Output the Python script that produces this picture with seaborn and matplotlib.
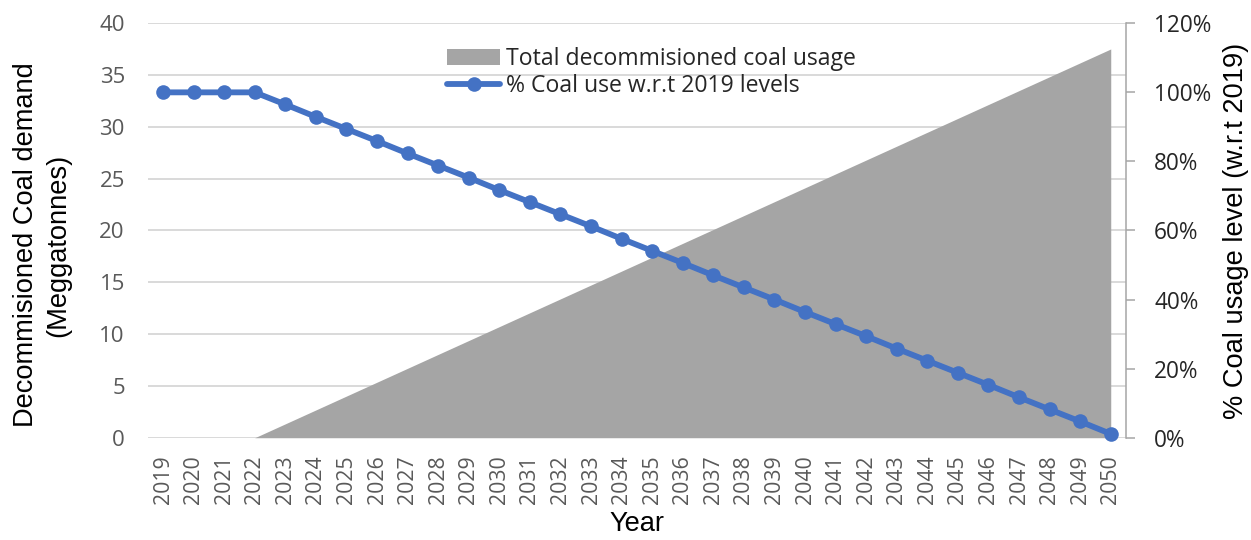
import matplotlib
matplotlib.use("Agg")
import matplotlib.pyplot as plt
from matplotlib.patches import Patch
from matplotlib.lines import Line2D
from matplotlib.ticker import FuncFormatter, MultipleLocator
import pandas as pd
import seaborn as sns

# --- data -------------------------------------------------------------
years = list(range(2019, 2051))
decommissioned_mt = [0, 0, 0, 0, 1.34, 2.68, 4.02, 5.36, 6.70, 8.04, 9.38,
                     10.72, 12.06, 13.40, 14.74, 16.08, 17.42, 18.76, 20.10,
                     21.44, 22.78, 24.12, 25.46, 26.80, 28.14, 29.48, 30.82,
                     32.16, 33.50, 34.84, 36.18, 37.52]
coal_use_pct = [100, 100, 100, 100, 96.5, 92.9, 89.4, 85.9, 82.3, 78.8, 75.3,
                71.7, 68.2, 64.7, 61.2, 57.6, 54.1, 50.6, 47.0, 43.5, 40.0,
                36.4, 32.9, 29.4, 25.8, 22.3, 18.8, 15.3, 11.7, 8.2, 4.7, 1.1]
area_label = "Total decommisioned coal usage"
line_label = "% Coal use w.r.t 2019 levels"

df = pd.DataFrame({"year": years, "decommissioned": decommissioned_mt,
                   "pct": coal_use_pct})

# --- style ------------------------------------------------------------
sns.set_theme(style="white")
plt.rcParams["font.family"] = ["Open Sans", "DejaVu Sans"]

AREA_GREY = "#A5A5A5"
LINE_BLUE = "#4472C4"
GRID = "#D9D9D9"
TICK_GREY = "#595959"
TITLE_FONT = ["Liberation Sans", "DejaVu Sans"]

fig = plt.figure(figsize=(12.51, 5.40), dpi=100)
ax = fig.add_axes([0.1181, 0.1894, 0.7820, 0.7675])
ax2 = ax.twinx()

# area: cumulative decommissioned coal demand (left axis)
ax.fill_between(df["year"], df["decommissioned"], 0, color=AREA_GREY,
                linewidth=0, zorder=2)
ax.set_xlim(2018.5, 2050.5)
ax.set_ylim(0, 40)
ax.yaxis.set_major_locator(MultipleLocator(5))
ax.yaxis.grid(True, color=GRID, linewidth=1.4)
ax.xaxis.grid(False)
ax.set_axisbelow(True)
ax.set_xticks(years)
ax.set_xticklabels([str(y) for y in years], rotation=90)
ax.tick_params(axis="x", length=0, pad=12.5, labelsize=15.3,
               labelcolor=TICK_GREY)
ax.tick_params(axis="y", length=0, pad=16.5, labelsize=16,
               labelcolor=TICK_GREY)
for s in ax.spines.values():
    s.set_visible(False)

# line: coal use relative to 2019 (right axis)
sns.lineplot(data=df, x="year", y="pct", ax=ax2, color=LINE_BLUE,
             linewidth=4.2, marker="o", markersize=10.5,
             markeredgewidth=0, markeredgecolor=LINE_BLUE, clip_on=False,
             zorder=5)
ax2.set_ylim(0, 120)
ax2.yaxis.set_major_locator(MultipleLocator(20))
ax2.yaxis.set_major_formatter(FuncFormatter(lambda v, _: f"{v:.0f}%"))
ax2.tick_params(axis="y", right=True, length=6.5, width=1.1, color="#A6A6A6",
                pad=13.7, labelsize=16.3, labelcolor="#262626")
ax2.set_xlabel("")
ax2.set_ylabel("")
ax2.grid(False)
for name, s in ax2.spines.items():
    s.set_visible(name == "right")
ax2.spines["right"].set_color("#A6A6A6")
ax2.spines["right"].set_linewidth(1.1)

# axis titles
fig.text(42.5 / 1251, 1 - 245 / 540,
         "Decommisioned Coal demand\n(Meggatonnes)", rotation=90,
         ha="center", va="center", fontsize=19.6, family=TITLE_FONT,
         color="black", linespacing=1.3)
fig.text(1236 / 1251, 1 - 230.5 / 540, "% Coal usage level (w.r.t 2019)",
         rotation=90, ha="center", va="center", fontsize=19.6,
         family=TITLE_FONT, color="black")
fig.text(637 / 1251, 1 - 524 / 540, "Year", ha="center", va="center",
         fontsize=19.6, family=TITLE_FONT, color="black")

# legend
handles = [Patch(facecolor=AREA_GREY, edgecolor="none"),
           Line2D([0], [0], color=LINE_BLUE, linewidth=4.2, marker="o",
                  markersize=10.5, markeredgewidth=0)]
fig.legend(handles, [area_label, line_label], loc="upper left",
           bbox_to_anchor=(447 / 1251, 1 - 47 / 540), frameon=False,
           borderpad=0, borderaxespad=0, handlelength=2.3,
           handletextpad=0.28, labelspacing=0.12,
           prop={"family": ["Open Sans", "DejaVu Sans"], "size": 16.6})

fig.savefig("out.png", dpi=100)
